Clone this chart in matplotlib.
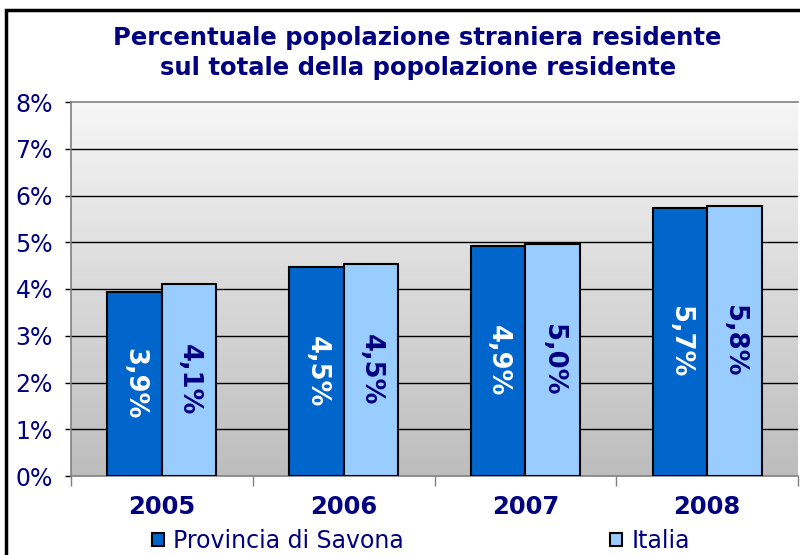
import numpy as np
import matplotlib
matplotlib.use("Agg")
import matplotlib.pyplot as plt
from matplotlib.patches import Rectangle
from matplotlib.colors import LinearSegmentedColormap

years = ["2005", "2006", "2007", "2008"]
savona = [3.94, 4.46, 4.92, 5.73]
italia = [4.10, 4.54, 4.97, 5.77]
series_names = ["Provincia di Savona", "Italia"]
yticks = [0, 1, 2, 3, 4, 5, 6, 7, 8]
title = "Percentuale popolazione straniera residente\nsul totale della popolazione residente"

NAVY = "#000080"
DARK = "#0066CC"
LIGHT = "#99CCFF"

fig = plt.figure(figsize=(8, 5.55), dpi=100)
fig.patch.set_facecolor("white")

# outer frame
fig.patches.append(Rectangle((6/800, -0.05), 1.2, 1 - 10/555 + 0.05, transform=fig.transFigure,
                             fill=False, edgecolor="black", linewidth=2.5, zorder=0))

ax = fig.add_axes([71/800, 1 - 476/555, 727/800, (476 - 102)/555])
ax.set_facecolor("none")

# gradient background
grad = np.linspace(0, 1, 256).reshape(-1, 1)
cmap = LinearSegmentedColormap.from_list("bg", ["#f6f6f6", "#bdbdbd"])
ax.imshow(grad, extent=(0, 1, 0, 1), transform=ax.transAxes, cmap=cmap,
          aspect="auto", zorder=0, origin="upper")

x = np.arange(len(years))
w = 0.30
ax.set_xlim(-0.5, len(years) - 0.5)
ax.set_ylim(0, 8)

for yv in yticks[1:-1]:
    ax.axhline(yv, color="black", linewidth=1.0, zorder=1)

b1 = ax.bar(x - w/2, savona, w, color=DARK, edgecolor="black", linewidth=1.5, zorder=3,
            label=series_names[0])
b2 = ax.bar(x + w/2, italia, w, color=LIGHT, edgecolor="black", linewidth=1.5, zorder=3,
            label=series_names[1])

def fmt(v):
    return f"{v:.1f}".replace(".", ",") + "%"

for xi, v in zip(x - w/2, savona):
    ax.text(xi, v/2, fmt(v), rotation=-90, ha="center", va="center", color="white",
            fontsize=18.5, fontweight="bold", zorder=4)
for xi, v in zip(x + w/2, italia):
    ax.text(xi, v/2, fmt(v), rotation=-90, ha="center", va="center", color=NAVY,
            fontsize=18.5, fontweight="bold", zorder=4)

ax.set_yticks(yticks)
ax.set_yticklabels([f"{t}%" for t in yticks], color=NAVY, fontsize=17)
ax.tick_params(axis="y", length=4.5, width=1, color="black", pad=8.5)

ax.set_xticks(x)
ax.set_xticklabels(years, color=NAVY, fontsize=17.5, fontweight="bold")
ax.set_xticks(np.arange(-0.5, len(years)), minor=True)
ax.tick_params(axis="x", which="major", length=0, pad=14)
ax.tick_params(axis="x", which="minor", length=7, width=1, color="#808080")

ax.spines["right"].set_visible(False)
for s in ["top", "left", "bottom"]:
    ax.spines[s].set_color("#808080")
    ax.spines[s].set_linewidth(1.2)

fig.text(0.522, 1 - 53/555, title, ha="center", va="center", color=NAVY,
         fontsize=17.5, fontweight="bold", linespacing=1.3)

leg = fig.legend(handles=[b1, b2], labels=series_names, loc="center left",
                 bbox_to_anchor=(152/800, 1 - 541/555), ncol=2, frameon=False,
                 fontsize=17, handlelength=0.51, handleheight=0.51, handletextpad=0.38,
                 columnspacing=8.75, borderpad=0, borderaxespad=0)
for t in leg.get_texts():
    t.set_color(NAVY)

fig.savefig("out.png", dpi=100)
